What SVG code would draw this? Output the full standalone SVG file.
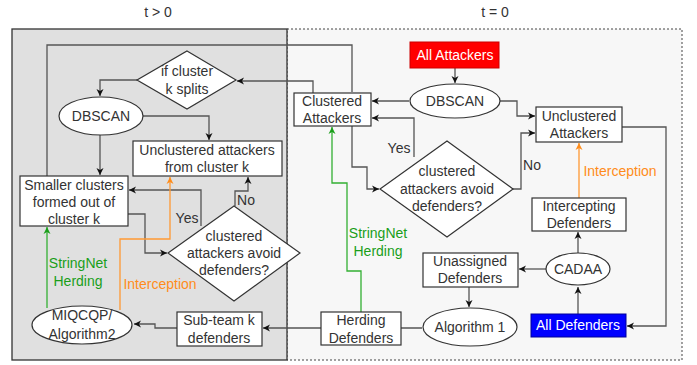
<svg xmlns="http://www.w3.org/2000/svg" width="697" height="365" viewBox="0 0 697 365">
<defs>
<marker id="ab" markerWidth="8" markerHeight="8" refX="7" refY="4" orient="auto" markerUnits="userSpaceOnUse"><path d="M0,0.5 L7,4 L0,7.5 L2,4 Z" fill="#111"/></marker>
<marker id="ao" markerWidth="8" markerHeight="8" refX="7" refY="4" orient="auto" markerUnits="userSpaceOnUse"><path d="M0,0.5 L7,4 L0,7.5 L2,4 Z" fill="#ff8c1a"/></marker>
<marker id="ag" markerWidth="8" markerHeight="8" refX="7" refY="4" orient="auto" markerUnits="userSpaceOnUse"><path d="M0,0.5 L7,4 L0,7.5 L2,4 Z" fill="#1a9e1a"/></marker>
</defs>
<style>
text{font-family:"Liberation Sans",Arial,sans-serif;font-size:14px;fill:#333;text-anchor:middle;dominant-baseline:central}
.n rect,.n ellipse,.n polygon{fill:#fff;stroke:#333;stroke-width:1.2}
.c path{fill:none;stroke:#555;stroke-width:1.3;marker-end:url(#ab)}
.c path.nm{marker-end:none}
.c path.o{stroke:#ff9933;marker-end:url(#ao)}
.c path.g{stroke:#33b033;marker-end:url(#ag)}
.lo{fill:#ff8c1a}
.lg{fill:#1a9e1a}
</style>
<rect x="287" y="29" width="395" height="331" fill="#f7f7f7" stroke="#444" stroke-dasharray="2,2" stroke-width="1"/>
<rect x="12" y="29" width="275" height="331" fill="#e0e0e0" stroke="#333" stroke-width="1.3"/>
<text x="158" y="12">t &gt; 0</text>
<text x="495" y="12">t = 0</text>

<g class="c" id="connectors">
<path class="nm" d="M47,176 V45 H352 V92"/>
<path d="M313,93 V81 H237"/>
<path d="M137,80 H100 V96"/>
<path d="M143,116 H209 V140"/>
<path d="M100,135 V175"/>
<path d="M128,214 H145 V253 H167"/>
<path d="M201,226 V190 H129"/>
<path d="M235,206 V191 H248 V177"/>
<path d="M177,328 H155 V324 H134"/>
<path d="M321,328 H263"/>
<path class="o" d="M120,310 V239 H170 V177"/>
<path class="g" d="M47,308 V227"/>
<path d="M455,68 V83"/>
<path d="M409,101 H372"/>
<path d="M500,101 H517 V116 H535"/>
<path d="M352,126 V167 H367 V189 H379"/>
<path d="M414,157 V118 H372"/>
<path d="M513,189 H521 V133 H535"/>
<path class="o" d="M579,198 V143"/>
<path d="M622,127 H666 V326 H627"/>
<path d="M578,314 V287"/>
<path d="M578,253 V232"/>
<path d="M546,269 H519"/>
<path d="M469,287 V307"/>
<path d="M422,328 H362"/>
<path class="g" d="M361,312 V271 H347 V183 H332 V127"/>
</g>

<text x="187" y="218">Yes</text>
<text x="246" y="200">No</text>
<text class="lo" x="160" y="284">Interception</text>
<text class="lg" x="78" y="263">StringNet</text>
<text class="lg" x="78" y="281">Herding</text>
<text x="399" y="148">Yes</text>
<text x="532" y="165">No</text>
<text class="lo" x="620" y="171">Interception</text>
<text class="lg" x="378" y="233">StringNet</text>
<text class="lg" x="378" y="251">Herding</text>

<g class="n" id="if-split"><polygon points="187,51 236,80 187,109 137,80"/><text x="187" y="71">if cluster</text><text x="187" y="89">k splits</text></g>
<g class="n" id="dbscan-k"><ellipse cx="101" cy="116" rx="42" ry="19"/><text x="101" y="116">DBSCAN</text></g>
<g class="n" id="unclustered-k"><rect x="133" y="141" width="149" height="35"/><text x="207" y="150">Unclustered attackers</text><text x="207" y="167">from cluster k</text></g>
<g class="n" id="smaller-clusters"><rect x="20" y="176" width="108" height="50"/><text x="74" y="185">Smaller clusters</text><text x="74" y="202">formed out of</text><text x="74" y="219">cluster k</text></g>
<g class="n" id="avoid-k"><polygon points="234,206 300,253 234,301 168,253"/><text x="234" y="236">clustered</text><text x="234" y="253">attackers avoid</text><text x="234" y="270">defenders?</text></g>
<g class="n" id="miqcqp"><ellipse cx="82" cy="325" rx="50" ry="19"/><text x="82" y="315">MIQCQP/</text><text x="82" y="334">Algorithm2</text></g>
<g class="n" id="subteam"><rect x="177" y="312" width="85" height="34"/><text x="219" y="320">Sub-team k</text><text x="219" y="338">defenders</text></g>

<g id="all-attackers"><rect x="410" y="42" width="89" height="26" fill="#ff0000" stroke="#cc0000"/><text x="455" y="55" style="fill:#fff">All Attackers</text></g>
<g class="n" id="dbscan"><ellipse cx="455" cy="101" rx="45" ry="17"/><text x="455" y="101">DBSCAN</text></g>
<g class="n" id="clustered"><rect x="294" y="93" width="77" height="33"/><text x="332" y="101">Clustered</text><text x="332" y="118">Attackers</text></g>
<g class="n" id="unclustered"><rect x="536" y="107" width="86" height="35"/><text x="579" y="116">Unclustered</text><text x="579" y="133">Attackers</text></g>
<g class="n" id="avoid"><polygon points="447,141 513,189 447,237 380,189"/><text x="447" y="171">clustered</text><text x="447" y="189">attackers avoid</text><text x="447" y="206">defenders?</text></g>
<g class="n" id="intercepting"><rect x="532" y="198" width="94" height="33"/><text x="579" y="206">Intercepting</text><text x="579" y="223">Defenders</text></g>
<g class="n" id="cadaa"><ellipse cx="578" cy="269" rx="32" ry="16"/><text x="578" y="269">CADAA</text></g>
<g class="n" id="unassigned"><rect x="423" y="253" width="95" height="34"/><text x="470" y="261">Unassigned</text><text x="470" y="278">Defenders</text></g>
<g class="n" id="algorithm1"><ellipse cx="470" cy="327" rx="47" ry="19"/><text x="470" y="327">Algorithm 1</text></g>
<g class="n" id="herding"><rect x="321" y="312" width="80" height="33"/><text x="361" y="320">Herding</text><text x="361" y="338">Defenders</text></g>
<g id="all-defenders"><rect x="531" y="314" width="95" height="23" fill="#0000ff" stroke="#000099"/><text x="578" y="325" style="fill:#fff">All Defenders</text></g>
</svg>
